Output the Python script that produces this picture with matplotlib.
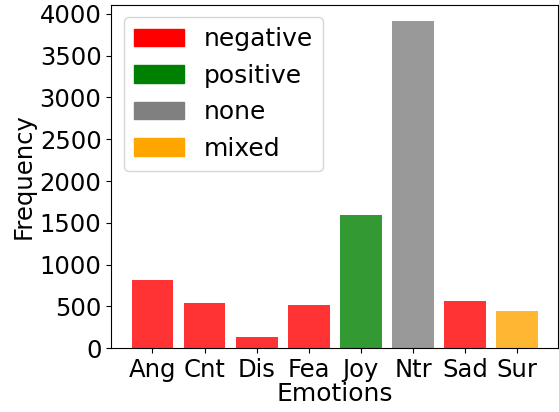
import matplotlib
matplotlib.use("Agg")
import matplotlib.pyplot as plt
import matplotlib.patches as mpatches
from matplotlib.ticker import MultipleLocator

emotions = ["Ang", "Cnt", "Dis", "Fea", "Joy", "Ntr", "Sad", "Sur"]
frequency = [814, 540, 132, 515, 1592, 3912, 563, 443]
polarity = ["negative", "negative", "negative", "negative", "positive", "none", "negative", "mixed"]

polarity_colors = {"negative": "red", "positive": "green", "none": "gray", "mixed": "orange"}

fig = plt.figure(figsize=(5.59, 4.12), dpi=100)
ax = fig.add_axes([0.199, 0.155, 0.8, 0.833])

bar_colors = [polarity_colors[p] for p in polarity]
ax.bar(emotions, frequency, color=bar_colors, alpha=0.8)

ax.yaxis.set_major_locator(MultipleLocator(500))
ax.set_xlabel("Emotions", fontsize=18, labelpad=0)
ax.set_ylabel("Frequency", fontsize=17.5, labelpad=3)
ax.tick_params(axis="both", labelsize=17.5)

# legend uses full-strength colours
handles = [mpatches.Patch(color=c, label=k) for k, c in polarity_colors.items()]
ax.legend(handles=handles, fontsize=18, loc="upper left")

fig.savefig("out.png", dpi=100)
